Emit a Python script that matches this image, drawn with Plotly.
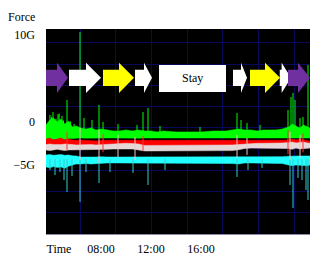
import plotly.graph_objects as go

# ---------------- data (time in hours, force in G) ----------------
T = [3.6, 3.9, 4.2, 4.5, 4.8, 5.1, 5.4, 5.7, 6.0, 6.4, 6.8, 7.2, 7.6, 8.0, 8.5, 9.0,
     9.5, 10.0, 10.5, 11.0, 11.5, 12.0, 12.5, 13.0, 14.0, 15.0, 16.0, 17.0, 18.0,
     18.5, 19.0, 19.5, 20.0, 20.5, 21.0, 21.5, 22.0, 22.5, 23.0, 23.3, 23.6, 23.9,
     24.2, 24.5, 24.72]

green_hi = [-0.42, 0.16, 0.39, -0.07, 0.27, -0.31, 0.04, -0.65, -0.54, -0.77, -0.89,
            -0.77, -1.00, -0.89, -1.00, -1.12, -1.12, -1.00, -1.12, -1.00, -1.12,
            -1.12, -1.23, -1.12, -1.23, -1.23, -1.23, -1.12, -1.12, -1.00, -0.89,
            -1.00, -1.00, -1.12, -1.00, -1.00, -1.00, -0.89, -0.65, -0.31, -0.54,
            -0.77, -0.42, -0.65, -0.77]
green_lo = [-2.05, -2.00, -2.10, -2.05, -2.00, -2.10, -2.00, -2.00, -1.95, -1.93,
            -1.95, -1.93, -1.93, -1.95, -1.93, -1.93, -1.95, -1.93, -1.93, -1.95,
            -1.93, -1.93, -1.95, -1.93, -1.93, -1.93, -1.95, -1.93, -1.93, -1.95,
            -1.93, -1.93, -1.95, -1.93, -1.93, -1.93, -1.95, -1.93, -1.95, -1.98,
            -1.95, -1.93, -1.98, -1.95, -1.93]

red_hi = [-2.05, -1.93, -2.16, -2.05, -1.93, -2.16, -2.05, -2.16, -2.20, -2.16, -2.20,
          -2.20, -2.28, -2.20, -2.20, -2.20, -2.28, -2.20, -2.20, -2.28, -2.28, -2.28,
          -2.28, -2.28, -2.28, -2.28, -2.28, -2.28, -2.28, -2.20, -2.20, -2.28, -2.28,
          -2.28, -2.28, -2.28, -2.28, -2.20, -2.16, -2.05, -2.16, -2.05, -2.16, -2.20,
          -2.28]
red_lo = [-2.98, -2.90, -3.00, -2.95, -2.98, -3.00, -2.95, -2.98, -2.98, -2.98, -2.98,
          -2.98, -2.98, -2.98, -2.98, -2.98, -2.98, -2.98, -2.98, -2.98, -2.98, -2.98,
          -2.98, -2.98, -2.98, -2.98, -2.98, -2.98, -2.98, -2.98, -3.00, -3.05, -3.09,
          -3.09, -3.09, -3.09, -3.09, -3.09, -3.09, -3.09, -3.09, -3.09, -3.09, -3.09,
          -3.09]

white_hi = [-2.70, -2.63, -2.70, -2.74, -2.70, -2.63, -2.70, -2.70, -2.74, -2.70, -2.70,
            -2.70, -2.74, -2.70, -2.63, -2.58, -2.58, -2.55, -2.58, -2.63, -2.80, -2.80,
            -2.80, -2.80, -2.80, -2.80, -2.80, -2.80, -2.80, -2.74, -2.70, -2.63, -2.55,
            -2.55, -2.55, -2.55, -2.55, -2.51, -2.45, -2.40, -2.51, -2.45, -2.40, -2.51,
            -2.55]
white_lo = [-3.32, -3.40, -3.32, -3.25, -3.32, -3.40, -3.32, -3.32, -3.25, -3.32, -3.32,
            -3.32, -3.32, -3.32, -3.25, -3.21, -3.21, -3.25, -3.21, -3.32, -3.44, -3.44,
            -3.44, -3.44, -3.44, -3.44, -3.44, -3.44, -3.44, -3.40, -3.30, -3.15, -3.09,
            -3.09, -3.09, -3.09, -3.09, -3.09, -3.15, -3.25, -3.09, -3.20, -3.15, -3.09,
            -3.09]

cyan_hi = [-3.90, -3.85, -3.95, -3.90, -3.85, -3.95, -3.90, -4.00, -4.02, -4.14, -4.10,
           -4.14, -4.14, -4.10, -4.14, -4.14, -4.14, -4.10, -4.14, -4.14, -4.14, -4.14,
           -4.14, -4.10, -4.14, -4.14, -4.14, -4.14, -4.14, -4.10, -4.14, -4.14, -4.14,
           -4.14, -4.10, -4.14, -4.14, -4.10, -4.05, -4.02, -4.05, -4.02, -4.02, -4.05,
           -4.02]
cyan_lo = [-5.30, -5.40, -5.25, -5.35, -5.30, -5.45, -5.20, -5.10, -4.95, -4.95, -4.90,
           -4.95, -4.90, -4.83, -4.83, -4.83, -4.83, -4.83, -4.83, -4.83, -4.83, -4.83,
           -4.83, -4.83, -4.83, -4.83, -4.83, -4.83, -4.83, -4.90, -4.95, -4.83, -4.83,
           -4.83, -4.83, -4.83, -4.83, -4.90, -5.07, -5.15, -5.07, -5.10, -5.07, -5.15,
           -5.07]

green_spike_t = [3.75, 3.92, 4.05, 4.16, 4.4, 4.56, 4.65, 4.88, 5.0, 5.28, 5.55, 5.85,
                 6.32, 6.64, 7.28, 7.84, 8.16, 9.36, 10.88, 11.36, 11.76, 12.72, 15.92,
                 18.88, 19.2, 19.68, 20.72, 22.96, 23.2, 23.36, 23.52, 23.92, 24.16, 24.56]
green_spike_top = [-0.2, 0.74, 0.5, 1.09, 0.3, 0.85, 0.9, 0.62, 0.1, 2.48, 0.0, -0.3,
                   10.37, 0.39, 0.16, 1.90, -0.07, -0.31, -0.42, 1.09, 1.55, -0.54, -0.65,
                   0.97, 0.16, -0.19, -0.42, 1.32, 2.83, 3.29, 2.48, 0.39, 0.51, 6.54]

cyan_spike_t = [3.92, 4.32, 4.72, 5.04, 5.28, 5.68, 6.32, 6.8, 7.84, 8.72, 10.56, 11.76,
                13.12, 18.88, 19.76, 20.88, 23.12, 23.36, 23.76, 24.08, 24.4, 24.56]
cyan_spike_bot = [-5.65, -6.23, -5.88, -6.81, -8.20, -6.34, -9.36, -5.88, -7.16, -5.88,
                  -5.99, -7.39, -5.65, -6.46, -5.65, -5.41, -7.39, -10.06, -6.57, -6.81,
                  -7.97, -9.13]

pink_spike_t = [6.32, 7.84, 9.36, 10.72, 18.88, 19.68, 23.12, 23.92]
pink_spike_top = [-0.77, -1.00, -1.58, -1.82, -1.58, -1.93, -1.23, -1.58]
pink_spike_bot = [-4.49, -4.83, -4.20, -4.49, -4.25, -3.90, -4.49, -4.25]

red_spike_t = [5.28, 8.16, 11.36, 22.96, 24.16]
red_spike_top = [-1.2, -1.5, -1.7, -1.0, -1.4]
red_spike_bot = [-3.3, -3.6, -3.4, -3.8, -3.6]

# phase arrows: start, head start, tip (hours)
arrow_start = [3.3, 5.44, 8.16, 10.72, 18.56, 19.92, 22.3, 22.96]
arrow_head = [4.48, 6.8, 9.44, 11.44, 19.2, 21.12, 22.45, 23.76]
arrow_tip = [5.36, 8.0, 10.64, 12.08, 19.68, 22.32, 23.2, 24.72]
arrow_color = ["#7030a0", "#ffffff", "#ffff00", "#ffffff", "#ffffff", "#ffff00",
               "#ffffff", "#7030a0"]
stay_start, stay_end = 12.64, 18.0

x_ticks = [4.64, 8, 12, 16]
x_labels = ["Time", "08:00", "12:00", "16:00"]
y_ticks = [10, 0, -5]
y_labels = ["10G", "0", "\u22125G"]

# ---------------- figure ----------------
fig = go.Figure()


def band(lo, hi, color):
    fig.add_trace(go.Scatter(x=T, y=lo, mode="lines", line=dict(color=color, width=0.5),
                             hoverinfo="skip", showlegend=False))
    fig.add_trace(go.Scatter(x=T, y=hi, mode="lines", line=dict(color=color, width=0.5),
                             fill="tonexty", fillcolor=color, hoverinfo="skip",
                             showlegend=False))


def spikes(ts, a, b, color, width=1):
    xs, ys = [], []
    for i, t in enumerate(ts):
        a_i = a[i] if isinstance(a, list) else a
        xs += [t, t, None]
        ys += [a_i, b[i], None]
    fig.add_trace(go.Scatter(x=xs, y=ys, mode="lines", line=dict(color=color, width=width),
                             hoverinfo="skip", showlegend=False))


band(green_lo, green_hi, "#00ff00")
spikes(green_spike_t, -1.5, green_spike_top, "#00ff00")
band(cyan_lo, cyan_hi, "#22ffff")
spikes(cyan_spike_t, -4.4, cyan_spike_bot, "#33cccc")
band(red_lo, red_hi, "#ff0000")
band(white_lo, white_hi, "#e6d8d8")
spikes(red_spike_t, red_spike_top, red_spike_bot, "#ff3030")
spikes(pink_spike_t, pink_spike_top, pink_spike_bot, "#e8c8c8")

body_lo, body_hi = 4.1, 6.0
head_lo, head_hi = 3.3, 6.8
mid = 5.05
shapes = []
for x0, xh, xt, c in zip(arrow_start, arrow_head, arrow_tip, arrow_color):
    path = (f"M {x0},{body_lo} L {xh},{body_lo} L {xh},{head_lo} L {xt},{mid} "
            f"L {xh},{head_hi} L {xh},{body_hi} L {x0},{body_hi} Z")
    shapes.append(dict(type="path", path=path, xref="x", yref="y", fillcolor=c,
                       line=dict(width=0), layer="above"))
shapes.append(dict(type="rect", x0=stay_start, x1=stay_end, y0=3.4, y1=6.54, xref="x",
                   yref="y", fillcolor="#ffffff", line=dict(width=0), layer="above"))

serif = "Liberation Serif"
fig.update_layout(
    width=321, height=260,
    margin=dict(l=46, r=11, t=29, b=26),
    paper_bgcolor="#ffffff", plot_bgcolor="#000000",
    shapes=shapes,
    font=dict(family=serif, size=12, color="#000000"),
    xaxis=dict(range=[3.6, 24.72], showgrid=False, zeroline=False, automargin=False,
               tickvals=x_ticks, ticktext=x_labels, ticks="", ticklabelstandoff=4,
               tickfont=dict(family=serif, size=12, color="#000000"),
               showline=True, linecolor="#8a8aa8", linewidth=1,
               minor=dict(showgrid=True, tick0=6.32, dtick=2.856,
                          gridcolor="#08085c", gridwidth=1, ticks="")),
    yaxis=dict(range=[-13.08, 10.72], showgrid=False, zeroline=False, automargin=False,
               tickvals=y_ticks, ticktext=y_labels, ticks="", ticklabelstandoff=10,
               tickfont=dict(family=serif, size=12, color="#000000"),
               minor=dict(showgrid=True, tick0=9.097, dtick=2.461,
                          gridcolor="#08085c", gridwidth=1, ticks="")),
    annotations=[
        dict(text="Force", x=-0.091, y=1.058, xref="paper", yref="paper",
             xanchor="center", yanchor="middle", showarrow=False,
             font=dict(family=serif, size=12, color="#000000")),
        dict(text="Stay", x=(stay_start + stay_end) / 2, y=5.05, xref="x", yref="y",
             xanchor="center", yanchor="middle", showarrow=False,
             font=dict(family=serif, size=12, color="#000000")),
    ],
)

fig.write_html("out.html")
